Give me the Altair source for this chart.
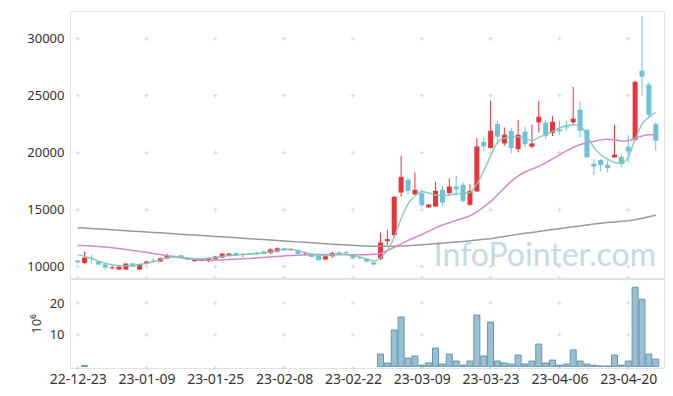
import altair as alt
import pandas as pd

# ---------------- data ----------------
dates = [
    "22-12-23", "22-12-26", "22-12-27", "22-12-28", "22-12-29", "23-01-02", "23-01-03", "23-01-04",
    "23-01-05", "23-01-06", "23-01-09", "23-01-10", "23-01-11", "23-01-12", "23-01-13", "23-01-16",
    "23-01-17", "23-01-18", "23-01-19", "23-01-20", "23-01-25", "23-01-26", "23-01-27", "23-01-30",
    "23-01-31", "23-02-01", "23-02-02", "23-02-03", "23-02-06", "23-02-07", "23-02-08", "23-02-09",
    "23-02-10", "23-02-13", "23-02-14", "23-02-15", "23-02-16", "23-02-17", "23-02-20", "23-02-21",
    "23-02-22", "23-02-23", "23-02-24", "23-02-27", "23-02-28", "23-03-02", "23-03-03", "23-03-06",
    "23-03-07", "23-03-08", "23-03-09", "23-03-10", "23-03-13", "23-03-14", "23-03-15", "23-03-16",
    "23-03-17", "23-03-20", "23-03-21", "23-03-22", "23-03-23", "23-03-24", "23-03-27", "23-03-28",
    "23-03-29", "23-03-30", "23-03-31", "23-04-03", "23-04-04", "23-04-05", "23-04-06", "23-04-07",
    "23-04-10", "23-04-11", "23-04-12", "23-04-13", "23-04-14", "23-04-17", "23-04-18", "23-04-19",
    "23-04-20", "23-04-21", "23-04-24", "23-04-25", "23-04-26",
]

opens = [
    10530, 10320, 10790, 10440, 10180, 9860, 9740, 9740, 10290, 9740,
    10270, 10590, 10440, 10710, 10940, 11000, 10730, 10470, 10500, 10500,
    10650, 10790, 10970, 11200, 11030, 11170, 11230, 11320, 11200, 11320,
    11610, 11440, 11470, 11090, 11090, 10970, 10620, 10910, 11260, 11260,
    11090, 10790, 10700, 10380, 10700, 12230, 12760, 16500, 17620, 16330,
    16450, 15190, 15270, 16740, 16450, 17030, 17180, 15420, 16590, 20950,
    20400, 22510, 20810, 21920, 20310, 21840, 20520, 22660, 22630, 21750,
    22040, 22390, 22660, 23770, 22010, 19020, 19350, 18940, 19580, 19640,
    20520, 21130, 27200, 25970, 22510,
]
highs = [
    10620, 11320, 11030, 10500, 10320, 10090, 10030, 10290, 10320, 10240,
    10530, 10730, 10790, 11120, 11030, 11030, 10790, 10650, 10670, 10790,
    10940, 11200, 11200, 11230, 11170, 11200, 11260, 11350, 11610, 11690,
    11670, 11590, 11500, 11230, 11120, 11000, 10940, 11320, 11320, 11380,
    11150, 10850, 10730, 10470, 12990, 13230, 16180, 19730, 17800, 18260,
    16800, 15500, 17440, 17090, 17730, 17970, 17380, 17240, 21270, 21420,
    24560, 22800, 22220, 22160, 22860, 22280, 22450, 24560, 22860, 23210,
    22800, 22800, 25790, 24500, 22040, 19430, 19430, 19290, 22450, 19870,
    21570, 26230, 32000, 26170, 22660,
]
lows = [
    10270, 10210, 10270, 10150, 9740, 9740, 9680, 9710, 9960, 9690,
    10210, 10380, 10410, 10650, 10790, 10730, 10560, 10440, 10470, 10380,
    10610, 10730, 10940, 10940, 10850, 11030, 11060, 11090, 11090, 11260,
    11390, 11390, 11090, 10940, 10820, 10530, 10590, 10790, 11030, 11090,
    10650, 10590, 10390, 10120, 10580, 11880, 12550, 16150, 16300, 16300,
    15200, 15150, 15270, 15330, 16210, 16210, 15620, 15330, 16590, 20100,
    20400, 20750, 20610, 19930, 20020, 20460, 20400, 21780, 21190, 21460,
    21570, 21920, 22500, 21340, 19580, 18030, 18350, 18260, 19550, 18700,
    19140, 21050, 25000, 23100, 20170,
]
closes = [
    10380, 10790, 10680, 10180, 9910, 9940, 10000, 10270, 9970, 10210,
    10440, 10530, 10730, 10940, 10900, 10760, 10590, 10620, 10650, 10730,
    10880, 11140, 11140, 10970, 11090, 11060, 11090, 11110, 11500, 11610,
    11440, 11550, 11110, 11140, 10850, 10560, 10910, 11200, 11090, 11170,
    10730, 10730, 10440, 10180, 12110, 12410, 16130, 17880, 16650, 16740,
    15400, 15450, 16650, 15620, 17030, 16770, 15770, 16650, 20550, 20550,
    21920, 21400, 21570, 20400, 21570, 20750, 20810, 23150, 21480, 22710,
    21870, 22220, 22980, 21920, 19580, 18790, 18910, 18640, 19820, 19000,
    20110, 26230, 26670, 23330, 21050,
]
ma_short = [
    11050, 10900, 10700, 10500, 10300, 10150, 10100, 10080, 10100, 10180,
    10290, 10430, 10590, 10760, 10870, 10850, 10760, 10700, 10690, 10730,
    10800, 10900, 10970, 11020, 11070, 11110, 11130, 11200, 11310, 11420,
    11510, 11520, 11400, 11260, 11110, 11020, 10990, 11030, 11070, 11060,
    11000, 10850, 10650, 10500, 10800, 11400, 12600, 14200, 15500, 16200,
    16580, 16450, 16280, 16220, 16280, 16400, 16420, 16500, 17240, 18400,
    19700, 20900, 21280, 21340, 21400, 21250, 21050, 21340, 21570, 21870,
    22160, 22360, 22420, 22360, 21480, 20460, 19820, 19430, 19140, 19080,
    19580, 21190, 22510, 23100, 23530,
]
ma_mid = [
    11880, 11840, 11800, 11760, 11720, 11660, 11590, 11510, 11420, 11330,
    11250, 11160, 11060, 10960, 10870, 10780, 10700, 10630, 10570, 10540,
    10560, 10590, 10620, 10650, 10680, 10720, 10760, 10800, 10850, 10890,
    10930, 10970, 11000, 11020, 11040, 11060, 11060, 11060, 11060, 11050,
    11040, 11030, 11050, 11080, 11150, 11400, 11700, 12000, 12300, 12550,
    12800, 13100, 13400, 13650, 13850, 14050, 14250, 14450, 14800, 15250,
    15700, 16300, 16900, 17500, 17950, 18300, 18550, 18800, 19100, 19450,
    19800, 20150, 20450, 20700, 20850, 20980, 21120, 21180, 21130, 21020,
    21050, 21250, 21450, 21560, 21570,
]
ma_long = [
    13420, 13380, 13340, 13310, 13270, 13230, 13190, 13150, 13110, 13070,
    13040, 13000, 12960, 12920, 12880, 12840, 12800, 12770, 12730, 12690,
    12650, 12610, 12570, 12530, 12490, 12450, 12410, 12370, 12330, 12290,
    12250, 12210, 12170, 12130, 12090, 12050, 12010, 11970, 11930, 11900,
    11870, 11840, 11810, 11790, 11780, 11780, 11790, 11800, 11830, 11870,
    11910, 11960, 12010, 12060, 12110, 12160, 12210, 12270, 12330, 12390,
    12450, 12550, 12650, 12740, 12830, 12920, 13000, 13080, 13170, 13250,
    13330, 13410, 13490, 13570, 13650, 13730, 13800, 13860, 13920, 13970,
    14020, 14120, 14240, 14370, 14500,
]
volume_m = [  # millions of shares
    0, 0.3, 0, 0, 0, 0, 0, 0, 0, 0,
    0, 0, 0, 0, 0, 0, 0, 0, 0, 0,
    0, 0, 0, 0, 0, 0, 0, 0, 0, 0,
    0, 0, 0, 0, 0, 0, 0, 0, 0, 0,
    0, 0, 0, 0, 3.9, 1.1, 11.5, 15.6, 2.6, 3.3,
    0.4, 1.1, 5.8, 0.75, 3.9, 1.7, 0.4, 1.7, 16.2, 3.3,
    14.0, 1.7, 1.1, 0.75, 3.6, 0.75, 1.7, 7.05, 1.1, 2.0,
    0.4, 0.75, 5.2, 1.7, 0.75, 0.4, 0.15, 0.15, 3.6, 0.4,
    1.7, 25.0, 21.2, 3.9, 2.3,
]
tick_idx = [0, 10, 20, 30, 40, 50, 60, 70, 80]
price_ticks = [10000, 15000, 20000, 25000, 30000]
vol_ticks = [10, 20]
watermark = "InfoPointer.com"

# ---------------- styling ----------------
RED = "#e9343a"
BLUE = "#6cc2d8"
FONT = "Noto Sans"
TXT = "#333333"
W = 594
H_PRICE = 267
H_VOL = 89
X_DOMAIN = [-0.39, 84.47]
P_DOMAIN = [9000, 32430]
V_DOMAIN = [-0.5, 27.6]

n = len(dates)
df = pd.DataFrame({
    "idx": list(range(n)), "date": dates, "open": opens, "high": highs,
    "low": lows, "close": closes, "ma5": ma_short, "ma20": ma_mid,
    "ma120": ma_long, "vol": volume_m,
})
df["dir"] = ["up" if c >= o else "down" for o, c in zip(opens, closes)]

label_expr = " : ".join(
    f"datum.value == {i} ? '{dates[i]}'" for i in tick_idx
) + " : ''"

xs = alt.Scale(domain=X_DOMAIN, nice=False, zero=False)
ps = alt.Scale(domain=P_DOMAIN, nice=False, zero=False)
vs = alt.Scale(domain=V_DOMAIN, nice=False, zero=False)
col = alt.Color("dir:N", scale=alt.Scale(domain=["up", "down"], range=[RED, BLUE]), legend=None)

cross_shape = "M-1,0H1M0,-1V1"

# ---------------- price panel ----------------
base = alt.Chart(df)
price_cross = alt.Chart(pd.DataFrame(
    [{"idx": i, "p": p} for i in tick_idx for p in price_ticks + [P_DOMAIN[0]]]
)).mark_point(shape=cross_shape, size=16, filled=False, color="#d6d6d6", strokeWidth=1, opacity=1).encode(
    x=alt.X("idx:Q", scale=xs, axis=None),
    y=alt.Y("p:Q", scale=ps, axis=alt.Axis(values=price_ticks, format="d", title=None, grid=False,
                                           ticks=False, domain=False, labelFont=FONT, labelFontSize=13,
                                           labelColor=TXT, labelPadding=6)),
)
wicks = base.mark_rule(strokeWidth=1).encode(
    x=alt.X("idx:Q", scale=xs, axis=None),
    y=alt.Y("low:Q", scale=ps),
    y2="high:Q",
    color=col,
)
bodies = base.mark_bar(size=5).encode(
    x=alt.X("idx:Q", scale=xs, axis=None),
    y=alt.Y("open:Q", scale=ps),
    y2="close:Q",
    color=col,
)
line_long = base.mark_line(color="#9a9a9a", strokeWidth=1.5).encode(
    x=alt.X("idx:Q", scale=xs, axis=None), y=alt.Y("ma120:Q", scale=ps))
line_mid = base.mark_line(color="#cf8cc8", strokeWidth=1.5, interpolate="monotone").encode(
    x=alt.X("idx:Q", scale=xs, axis=None), y=alt.Y("ma20:Q", scale=ps))
line_short = base.mark_line(color="#80c6bd", strokeWidth=1.5, interpolate="monotone", opacity=0.9).encode(
    x=alt.X("idx:Q", scale=xs, axis=None), y=alt.Y("ma5:Q", scale=ps))
wm = alt.Chart(pd.DataFrame({"t": [watermark]})).mark_text(
    font="Lato", fontSize=32, color="#c8d9e3", align="right", baseline="alphabetic"
).encode(text="t:N", x=alt.value(586), y=alt.value(255))

price = alt.layer(price_cross, wm, wicks, bodies, line_long, line_mid, line_short).properties(
    width=W, height=H_PRICE)

# ---------------- volume panel ----------------
vol_cross = alt.Chart(pd.DataFrame(
    [{"idx": i, "v": v} for i in tick_idx for v in vol_ticks + [V_DOMAIN[0]]]
)).mark_point(shape=cross_shape, size=16, filled=False, color="#d6d6d6", strokeWidth=1, opacity=1).encode(
    x=alt.X("idx:Q", scale=xs, axis=alt.Axis(values=tick_idx, labelExpr=label_expr, title=None,
                                             grid=False, ticks=False, domain=False, labelFont=FONT,
                                             labelFontSize=14, labelColor=TXT, labelPadding=4)),
    y=alt.Y("v:Q", scale=vs, axis=alt.Axis(values=vol_ticks, title="10⁶", grid=False, ticks=False,
                                           domain=False, labelFont=FONT, labelFontSize=13,
                                           labelColor=TXT, labelPadding=6, titleFont=FONT,
                                           titleFontSize=13, titleFontWeight="normal",
                                           titleColor=TXT, titlePadding=6)),
)
vol_bars = base.transform_filter("datum.vol > 0").mark_bar(
    size=6, fill="#93bccf", stroke="#6496b0", strokeWidth=1, fillOpacity=0.95
).encode(
    x=alt.X("idx:Q", scale=xs),
    y=alt.Y("vol:Q", scale=vs),
    y2=alt.datum(0),
)
volume = alt.layer(vol_cross, vol_bars).properties(width=W, height=H_VOL)

chart = alt.vconcat(price, volume, spacing=1, bounds="flush").properties(
    padding={"left": 18, "top": 2, "right": 0, "bottom": 0},
    background="white",
).configure_view(stroke="#e2e2e2", strokeWidth=1)

chart.save("out.html", embed_options={"renderer": "svg", "actions": False})
